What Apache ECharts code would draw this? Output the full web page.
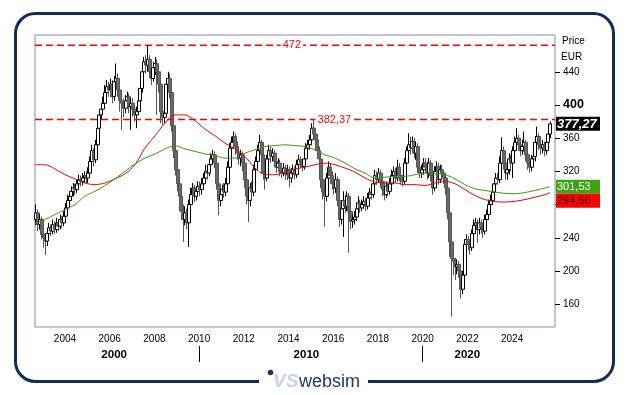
<!DOCTYPE html>
<html><head><meta charset="utf-8">
<script src="https://cdn.jsdelivr.net/npm/echarts@6/dist/echarts.min.js"></script>
<style>html,body{margin:0;padding:0;background:#fff}#c{width:629px;height:395px}</style>
</head><body><div id="c"></div>
<script>
const FONT = '"Liberation Sans", Arial, sans-serif';
// monthly candles, first = 2002-09
const startYear = 2002, startMonth = 9;
const openP = [
262,270,256,262,
244,240,236,245,252,248,256,250,258,254,262,258,
266,276,285,290,296,300,298,305,310,308,312,315,
312,318,332,345,334,352,372,388,395,402,415,422,
418,425,410,428,432,418,405,402,396,405,410,398,
402,395,388,392,405,420,440,452,448,455,440,432,
445,450,440,425,392,385,390,425,432,415,375,345,
322,305,290,272,262,270,258,280,292,300,290,296,
302,298,305,312,320,318,328,335,340,330,305,285,
292,298,295,305,325,348,355,362,350,342,336,340,
330,310,290,285,300,295,322,332,345,355,340,318,
312,335,345,338,342,332,325,330,320,318,324,316,
322,312,318,322,316,328,334,330,326,335,348,352,
358,372,365,358,345,335,310,295,290,312,325,315,
305,300,310,285,262,275,285,278,290,272,260,262,
265,275,282,276,280,284,278,288,295,292,305,315,
310,318,308,298,292,302,296,305,315,320,312,325,
315,310,308,330,345,352,348,356,342,350,325,318,
322,330,325,318,330,315,300,320,326,310,322,318,
312,300,270,235,215,212,205,208,200,178,195,232,
238,232,228,245,255,258,250,258,252,248,262,268,
280,285,295,305,312,310,330,345,330,318,322,335,
330,345,355,360,352,345,350,355,340,330,325,335,
338,355,362,352,348,352,345,355,365];
const closeP = [
270,256,262,244,
240,236,245,252,248,256,250,258,254,262,258,266,
276,285,290,296,300,298,305,310,308,312,315,312,
318,332,345,334,352,372,388,395,402,415,422,418,
425,410,428,432,418,405,402,396,405,410,398,402,
395,388,392,405,420,440,452,448,455,440,432,445,
450,440,425,392,385,390,425,432,415,375,345,322,
305,290,272,262,270,258,280,292,300,290,296,302,
298,305,312,320,318,328,335,340,330,305,285,292,
298,295,305,325,348,355,362,350,342,336,340,330,
310,290,285,300,295,322,332,345,355,340,318,312,
335,345,338,342,332,325,330,320,318,324,316,322,
312,318,322,316,328,334,330,326,335,348,352,358,
372,365,358,345,335,310,295,290,312,325,315,305,
300,310,285,262,275,285,278,290,272,260,262,265,
275,282,276,280,284,278,288,295,292,305,315,310,
318,308,298,292,302,296,305,315,320,312,325,315,
310,308,330,345,352,348,356,342,350,325,318,322,
330,325,318,330,315,300,320,326,310,322,318,312,
300,270,235,215,212,205,208,200,178,195,232,238,
232,228,245,255,258,250,258,252,248,262,268,280,
285,295,305,312,310,330,345,330,318,322,335,330,
345,355,360,352,345,350,355,340,330,325,335,338,
355,362,352,348,352,345,355,365,377.27];
const highP = [
280,274,268,265,
250,245,250,258,256,262,260,264,262,268,266,272,
282,292,296,302,306,305,310,316,315,318,320,320,
325,338,352,348,358,378,394,402,410,424,430,428,
432,430,435,450,438,422,412,408,412,416,414,408,
408,400,398,412,426,446,458,460,472,460,446,452,
458,455,445,430,398,398,430,440,438,420,380,350,
328,310,295,280,278,275,286,300,306,304,302,308,
308,312,318,328,326,334,342,346,344,334,310,300,
304,306,312,332,354,362,368,366,356,348,346,344,
334,315,296,306,308,328,338,352,364,358,344,322,
340,352,350,348,346,336,336,334,326,330,328,328,
326,324,328,326,334,340,338,334,340,354,358,364,
378,382.37,370,362,350,338,314,300,318,332,330,320,
312,318,314,290,282,296,292,296,294,276,268,272,
282,290,286,286,290,288,294,300,300,312,322,320,
324,322,312,302,308,306,312,322,326,324,334,330,
318,316,336,350,366,362,362,360,356,354,330,328,
336,336,332,336,334,318,326,332,330,328,328,322,
316,304,274,246,222,216,214,212,204,200,238,244,
242,238,250,262,264,262,264,262,258,268,274,286,
292,300,312,318,318,338,361,350,334,330,342,340,
350,362,372,364,356,358,368,358,344,336,340,344,
362,374,366,358,358,356,362,370,380];
const lowP = [
255,248,250,238,
228,219,230,240,242,244,245,246,248,250,252,254,
262,272,280,285,290,292,294,300,302,303,306,305,
306,314,326,326,330,348,366,382,388,396,408,410,
410,402,405,420,410,392,370,385,390,398,390,370,
386,380,372,388,400,415,434,438,440,432,424,428,
436,388,415,378,376,378,386,418,408,368,336,315,
296,280,262,235,255,250,229,275,286,283,285,290,
290,292,300,308,310,314,322,328,324,298,267,278,
285,288,290,300,320,342,348,340,334,328,326,320,
300,280,259,278,286,290,316,326,338,332,310,298,
308,330,330,332,326,318,320,314,312,314,310,310,
301,306,312,310,312,322,324,320,322,330,342,346,
352,358,350,338,328,300,286,253,284,306,308,298,
292,294,278,253,256,241,270,272,222,250,252,256,
260,270,270,272,275,272,274,284,286,288,300,304,
306,300,290,285,288,290,292,300,310,306,308,308,
304,302,305,325,340,340,342,336,334,318,312,312,
316,318,310,312,308,292,296,314,304,306,312,305,
292,262,217,145,195,189,196,192,167,172,190,226,
225,220,224,238,248,234,244,245,240,244,256,262,
274,280,288,298,304,306,325,322,310,310,316,320,
312,340,348,345,338,340,344,332,322,318,320,328,
332,348,346,340,342,338,340,350,360];

// moving averages (fractional years)
const maYears = [2002.66,2003.11,2003.55,2004.00,2004.45,2004.89,2005.34,2005.79,2006.24,2006.68,2007.13,2007.58,2008.03,2008.47,2008.92,2009.37,2009.82,2010.26,2010.71,2011.16,2011.61,2012.05,2012.50,2012.95,2013.40,2013.84,2014.29,2014.74,2015.19,2015.63,2016.08,2016.53,2016.98,2017.42,2017.87,2018.32,2018.77,2019.21,2019.66,2020.11,2020.55,2021.00,2021.45,2021.90,2022.34,2022.79,2023.24,2023.69,2024.13,2024.58,2025.03,2025.48,2025.70];
const maRed = [328,328,323,316,311,306,304,306,311,317,328,348,363,378,388,388,381,371,363,354,347,338,324,316,316,319,323,325,328,330,328,324,319,312,307,306,306,304,304,303,306,308,305,298,291,286,283.5,283,284,286,289,292,294.56];
const maGreen = [257,262,268,274,280,290,296,303,311,320,329,336,341,347,351,347,344,341,339,336,336,342,346,350,351,352,351,350,346,340,336,330,323,318,312,313,314,314,316,318,317,316,311,304,299,297,295,293.5,293,294.5,297,300,301.53];

const yearTicks = [2004,2006,2008,2010,2012,2014,2016,2018,2020,2022,2024];
const priceTicks = [160,200,240,280,320,360,400,440];
const decadeLabels = ['2000','2010','2020'];
const decadeLabelPos = [2006.2, 2014.8, 2022.0];
const decadeBreaks = [2010, 2020];
const levelValues = [472, 382.37];
const levelLabels = ['472', '382,37'];
const levelLabelPos = [2014.15, 2016.05];
const boxValues = [377.27, 301.53, 294.56];
const boxLabels = ['377,27', '301,53', '294,56'];

const X_MIN = 2002.66, X_MAX = 2025.92;

const candles = closeP.map((c, i) => {
  const m = startMonth - 1 + i;
  const t = startYear + Math.floor(m / 12) + ((m % 12) + 0.5) / 12;
  return [t, openP[i], c, lowP[i], highP[i]];
});

const levelSeries = levelValues.map(v => ({
  type: 'line', data: [[X_MIN, v], [X_MAX, v]], showSymbol: false, silent: true, z: 4,
  lineStyle: {color: '#ff0000', type: [7, 4], width: 1.5}
}));

const chart = echarts.init(document.getElementById('c'), null, {renderer: 'canvas'});
chart.setOption({
  animation: false,
  backgroundColor: '#ffffff',
  grid: {left: 35, right: 74, top: 35, bottom: 68, show: true, borderColor: '#8c8c9c', borderWidth: 1, backgroundColor: 'transparent'},
  xAxis: [{
    type: 'value', min: X_MIN, max: X_MAX,
    axisLine: {show: false}, axisTick: {show: false}, splitLine: {show: false},
    axisLabel: {customValues: yearTicks, formatter: v => String(Math.round(v)), color: '#000', fontSize: 10, fontFamily: FONT, margin: 7}
  }, {
    type: 'value', min: X_MIN, max: X_MAX, position: 'bottom', offset: 19,
    axisLine: {show: false}, splitLine: {show: false},
    axisTick: {show: true, customValues: decadeBreaks, length: 16, lineStyle: {color: '#000', width: 1}},
    axisLabel: {customValues: decadeLabelPos, color: '#000', fontSize: 11.5, fontWeight: 'bold', fontFamily: FONT, margin: 3,
      formatter: v => { let b = 0; decadeLabelPos.forEach((p, i) => { if (Math.abs(p - v) < Math.abs(decadeLabelPos[b] - v)) b = i; }); return decadeLabels[b]; }}
  }],
  yAxis: {
    type: 'value', position: 'right', min: 132.5, max: 484.3,
    axisLine: {show: false}, splitLine: {show: false},
    axisTick: {show: true, customValues: priceTicks, length: 5, lineStyle: {color: '#000'}},
    axisLabel: {customValues: priceTicks, margin: 8, color: '#000', fontSize: 10, fontFamily: FONT,
      formatter: v => v === 400 ? '{b|400}' : String(v),
      rich: {b: {fontSize: 12.5, fontWeight: 'bold', fontFamily: FONT, color: '#000'}}}
  },
  series: [{
    type: 'candlestick', data: candles, encode: {x: 0, y: [1, 2, 3, 4]},
    barWidth: 3.5,
    itemStyle: {color: '#ffffff', color0: '#6a6a6a', borderColor: '#000000', borderColor0: '#555555', borderWidth: 1}
  }, {
    type: 'line', data: maYears.map((t, i) => [t, maRed[i]]), smooth: 0.3, showSymbol: false,
    lineStyle: {color: '#ee0000', width: 1}, z: 3
  }, {
    type: 'line', data: maYears.map((t, i) => [t, maGreen[i]]), smooth: 0.3, showSymbol: false,
    lineStyle: {color: '#3c9a0a', width: 1}, z: 3
  }].concat(levelSeries)
});

const px = v => chart.convertToPixel({yAxisIndex: 0}, v);
const pxX = t => chart.convertToPixel({xAxisIndex: 0}, t);
const g = [];
// frame
g.push({type: 'rect', z: 100, shape: {x: 15.5, y: 13.5, width: 598, height: 368, r: 20}, style: {fill: 'none', stroke: '#0f2d5d', lineWidth: 3}});
g.push({type: 'rect', z: 101, shape: {x: 259, y: 372, width: 109, height: 18}, style: {fill: '#fff'}});
g.push({type: 'circle', z: 102, shape: {cx: 270.5, cy: 372.5, r: 2.8}, style: {fill: '#1b365f'}});
g.push({type: 'text', z: 102, x: 273, y: 382, style: {text: 'VS', font: 'italic bold 19px ' + FONT, fill: '#c6d3e3', verticalAlign: 'middle'}});
g.push({type: 'text', z: 102, x: 299, y: 382, style: {text: 'websim', font: '18px ' + FONT, fill: '#1b3763', verticalAlign: 'middle'}});
// unit texts
g.push({type: 'text', z: 102, x: 562, y: 41, style: {text: 'Price', font: '10px ' + FONT, fill: '#000', verticalAlign: 'middle'}});
g.push({type: 'text', z: 102, x: 561, y: 57, style: {text: 'EUR', font: '10px ' + FONT, fill: '#000', verticalAlign: 'middle'}});
// level labels
levelValues.forEach((v, i) => {
  g.push({type: 'text', z: 102, x: pxX(levelLabelPos[i]), y: px(v), style: {text: levelLabels[i], font: '11px ' + FONT, fill: '#ff0000', align: 'center', verticalAlign: 'middle', backgroundColor: '#ffffff', padding: [1, 2]}});
});
// value boxes
const boxFill = ['#000000', '#3ea310', '#ff0000'];
const boxText = ['#ffffff', '#ffffff', '#2a0000'];
const boxFont = ['italic bold 13px ', '11px ', '11px '];
let prevBottom = -1e9;
boxValues.forEach((v, i) => {
  let top = px(v) - 7;
  if (top < prevBottom) top = prevBottom;
  prevBottom = top + 14;
  g.push({type: 'rect', z: 103, shape: {x: 556, y: top, width: 44, height: 14}, style: {fill: boxFill[i]}});
  g.push({type: 'text', z: 104, x: 557, y: top + 7.5, style: {text: boxLabels[i], font: boxFont[i] + FONT, fill: boxText[i], verticalAlign: 'middle'}});
});
chart.setOption({graphic: g});
</script></body></html>
